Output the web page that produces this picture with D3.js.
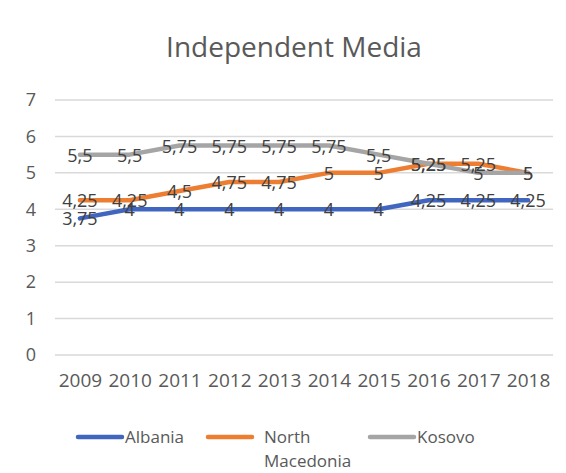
<!DOCTYPE html>
<html>
<head>
<meta charset="utf-8">
<script src="https://cdn.jsdelivr.net/npm/d3@7"></script>
<style>
  body { margin: 0; background: #fff; }
  text { font-family: "Open Sans", "Liberation Sans", sans-serif; }
</style>
</head>
<body>
<script>
// years on the x axis
const years = ["2009", "2010", "2011", "2012", "2013", "2014", "2015", "2016", "2017", "2018"];
// values per country
const albania = [3.75, 4, 4, 4, 4, 4, 4, 4.25, 4.25, 4.25];
const northMacedonia = [4.25, 4.25, 4.5, 4.75, 4.75, 5, 5, 5.25, 5.25, 5];
const kosovo = [5.5, 5.5, 5.75, 5.75, 5.75, 5.75, 5.5, 5.25, 5, 5];
const yTicks = [0, 1, 2, 3, 4, 5, 6, 7];

const seriesNames = ["Albania", "North Macedonia", "Kosovo"];
const seriesValues = [albania, northMacedonia, kosovo];
const colors = ["#4166c0", "#ed7d31", "#a5a5a5"];

// size and margins
const w = 566;
const h = 473;
const margin = { top: 100, right: 13, bottom: 118, left: 55 };
const innerWidth = w - margin.left - margin.right;
const innerHeight = h - margin.top - margin.bottom;

const svg = d3.select("body")
    .append("svg")
    .attr("width", w)
    .attr("height", h);

// title
svg.append("text")
    .attr("x", 294)
    .attr("y", 57)
    .attr("text-anchor", "middle")
    .attr("font-size", 28)
    .attr("fill", "#595959")
    .text("Independent Media");

const xScale = d3.scalePoint()
    .domain(years)
    .range([0, innerWidth])
    .padding(0.5);

const yScale = d3.scaleLinear()
    .domain([0, 7])
    .range([innerHeight, 0]);

const g = svg.append("g")
    .attr("transform", `translate(${margin.left},${margin.top})`);

// gridlines
g.selectAll(".grid")
    .data(yTicks)
    .enter()
    .append("line")
    .attr("x1", 0)
    .attr("x2", innerWidth)
    .attr("y1", d => yScale(d))
    .attr("y2", d => yScale(d))
    .attr("stroke", "#d9d9d9")
    .attr("stroke-width", 1.5);

// y axis labels
const yAxis = d3.axisLeft(yScale).tickValues(yTicks).tickFormat(d3.format("d")).tickSize(0).tickPadding(19);
g.append("g").call(yAxis)
    .call(s => s.select(".domain").remove())
    .selectAll("text")
    .attr("font-size", 18)
    .attr("fill", "#595959");

// x axis labels
const xAxis = d3.axisBottom(xScale).tickSize(0).tickPadding(19);
g.append("g").call(xAxis)
    .attr("transform", `translate(0, ${innerHeight})`)
    .call(s => s.select(".domain").remove())
    .selectAll("text")
    .attr("font-size", 19)
    .attr("fill", "#595959");

// lines
const line = d3.line()
    .x((d, i) => xScale(years[i]))
    .y(d => yScale(d));

seriesValues.forEach((vals, k) => {
    g.append("path")
        .datum(vals)
        .attr("d", line)
        .attr("fill", "none")
        .attr("stroke", colors[k])
        .attr("stroke-width", 4.5)
        .attr("stroke-linejoin", "round")
        .attr("stroke-linecap", "round");
});

// data labels
const fmt = v => String(v).replace(".", ",");
seriesValues.forEach((vals, k) => {
    g.selectAll(".lbl" + k)
        .data(vals)
        .enter()
        .append("text")
        .attr("x", (d, i) => xScale(years[i]))
        .attr("y", d => yScale(d) + 7)
        .attr("text-anchor", "middle")
        .attr("font-size", 18)
        .attr("fill", "#404040")
        .text(d => fmt(d));
});

// legend
const legendX = [78, 208, 370];
const legend = svg.append("g");
seriesNames.forEach((name, k) => {
    legend.append("line")
        .attr("x1", legendX[k])
        .attr("x2", legendX[k] + 44)
        .attr("y1", 437)
        .attr("y2", 437)
        .attr("stroke", colors[k])
        .attr("stroke-width", 4.5)
        .attr("stroke-linecap", "round");
    const t = legend.append("text")
        .attr("x", legendX[k] + (k === 1 ? 56 : 47))
        .attr("y", 443)
        .attr("font-size", 17)
        .attr("fill", "#595959");
    if (k === 1) {
        t.append("tspan").text("North");
        t.append("tspan").attr("x", legendX[k] + 56).attr("dy", 24).text("Macedonia");
    } else {
        t.text(name);
    }
});
</script>
</body>
</html>
